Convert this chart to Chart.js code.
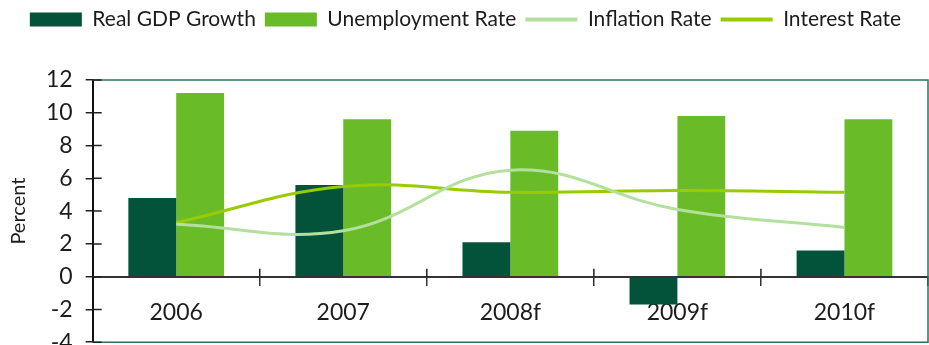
<!DOCTYPE html>
<html>
<head>
<meta charset="utf-8">
<script src="https://cdn.jsdelivr.net/npm/chart.js@4"></script>
<style>
  html, body { margin: 0; padding: 0; background: #fff; }
  body { width: 929px; height: 345px; overflow: hidden; }
  #wrap { width: 929px; height: 369px; }
</style>
</head>
<body>
<div id="wrap"><canvas id="econChart" width="929" height="369"></canvas></div>
<script>
// Economic indicators, actual + forecast
const years = ['2006', '2007', '2008f', '2009f', '2010f'];
const gdpGrowth = [4.8, 5.6, 2.1, -1.7, 1.6];
const unemployment = [11.2, 9.6, 8.9, 9.8, 9.6];
const inflation = [3.2, 2.8, 6.5, 4.1, 3.0];
const interestRate = [3.3, 5.5, 5.15, 5.25, 5.15];
const yRange = { min: -4, max: 12, step: 2 };

const FONT = 'Lato, "Open Sans", sans-serif';
const TEXT = '#1c1c1c';

// extra room under the legend
const legendGap = {
    id: 'legendGap',
    beforeInit(chart) {
        const fit = chart.legend.fit;
        chart.legend.fit = function () {
            fit.call(this);
            this.height += 40;
        };
    }
};

// green frame around the plot + tick marks that cross the axes
const frameAndTicks = {
    id: 'frameAndTicks',
    afterDraw(chart) {
        const { ctx, chartArea: a, scales: { x, y } } = chart;
        ctx.save();
        ctx.strokeStyle = '#2f6f5c';
        ctx.lineWidth = 1.5;
        ctx.beginPath();
        ctx.moveTo(a.left, a.top);
        ctx.lineTo(a.right, a.top);
        ctx.lineTo(a.right, a.bottom);
        ctx.lineTo(a.left, a.bottom);
        ctx.stroke();

        ctx.strokeStyle = '#222';
        ctx.lineWidth = 1.5;
        ctx.beginPath();
        y.ticks.forEach(t => {
            const py = y.getPixelForValue(t.value);
            ctx.moveTo(a.left, py);
            ctx.lineTo(a.left + 9, py);
        });
        const zero = y.getPixelForValue(0);
        for (let i = 1; i < years.length; i++) {
            const px = (x.getPixelForValue(i - 1) + x.getPixelForValue(i)) / 2;
            ctx.moveTo(px, zero - 8);
            ctx.lineTo(px, zero);
        }
        ctx.stroke();
        ctx.restore();
    }
};

new Chart(document.getElementById('econChart').getContext('2d'), {
    type: 'bar',
    data: {
        labels: years,
        datasets: [
            { label: 'Real GDP Growth', data: gdpGrowth, backgroundColor: '#03533a', order: 2 },
            { label: 'Unemployment Rate', data: unemployment, backgroundColor: '#69bc28', order: 2 },
            { type: 'line', label: 'Inflation Rate', data: inflation, borderColor: '#b4e09e', backgroundColor: '#b4e09e',
              borderWidth: 3, pointRadius: 0, tension: 0.4, order: 1 },
            { type: 'line', label: 'Interest Rate', data: interestRate, borderColor: '#99cc00', backgroundColor: '#99cc00',
              borderWidth: 3, pointRadius: 0, tension: 0.4, order: 1 },
        ],
    },
    options: {
        responsive: false,
        animation: false,
        layout: { padding: { top: 0, left: 3, right: 1, bottom: 0 } },
        datasets: { bar: { categoryPercentage: 0.573, barPercentage: 1 } },
        plugins: {
            tooltip: { enabled: false },
            legend: {
                position: 'top',
                labels: {
                    usePointStyle: true,
                    pointStyleWidth: 52,
                    boxHeight: 14,
                    padding: 9,
                    color: TEXT,
                    font: { family: FONT, size: 21 },
                    generateLabels: (chart) => chart.data.datasets.map((ds, i) => ({
                        text: ds.label,
                        datasetIndex: i,
                        fillStyle: ds.backgroundColor,
                        strokeStyle: ds.borderColor || ds.backgroundColor,
                        lineWidth: ds.type === 'line' ? 4 : 0,
                        pointStyle: ds.type === 'line' ? 'line' : 'rect',
                        fontColor: TEXT,
                        hidden: false,
                    })),
                },
            },
        },
        scales: {
            x: {
                position: { y: 0 },
                grid: { drawOnChartArea: false, tickLength: 8, color: '#333', lineWidth: 1.5 },
                border: { color: '#333', width: 2 },
                ticks: { color: TEXT, padding: 14, font: { family: FONT, size: 23 } },
            },
            y: {
                min: yRange.min,
                max: yRange.max,
                grid: { drawOnChartArea: false, tickLength: 7, color: '#222', lineWidth: 1.5 },
                border: { color: '#111', width: 2 },
                ticks: { stepSize: yRange.step, color: TEXT, padding: 13, font: { family: FONT, size: 23 } },
                title: { display: true, text: 'Percent', color: TEXT, padding: { top: 4, bottom: 2 }, font: { family: FONT, size: 20 } },
            },
        },
    },
    plugins: [legendGap, frameAndTicks],
});
</script>
</body>
</html>
